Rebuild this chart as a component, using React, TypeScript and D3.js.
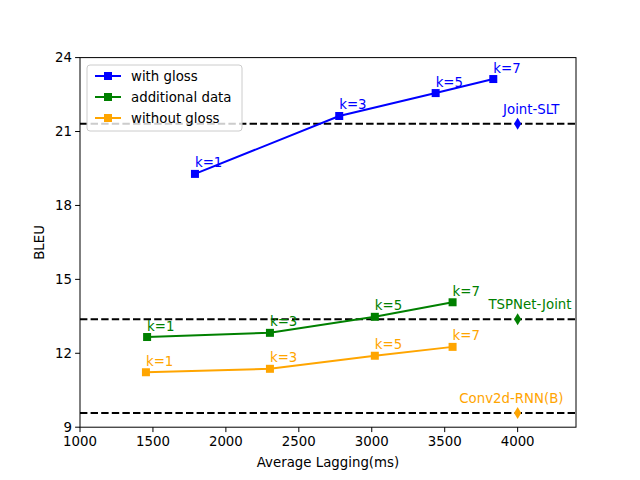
import * as d3 from 'd3';
import React from 'react';

const lagWithGloss = [1788, 2777, 3438, 3833];
const bleuWithGloss = [19.28, 21.63, 22.56, 23.13];
const lagAdditional = [1460, 2302, 3021, 3554];
const bleuAdditional = [12.66, 12.83, 13.48, 14.07];
const lagWithoutGloss = [1452, 2302, 3021, 3554];
const bleuWithoutGloss = [11.23, 11.37, 11.9, 12.26];
const kLabels = ['k=1', 'k=3', 'k=5', 'k=7'];

const baselineNames = ['Joint-SLT', 'TSPNet-Joint', 'Conv2d-RNN(B)'];
const baselineBleu = [21.32, 13.38, 9.58];
const baselineLag = [4000, 4000, 4000];
const baselineTextLag = [3900, 3800, 3600];

const xTicks = [1000, 1500, 2000, 2500, 3000, 3500, 4000];
const yTicks = [9, 12, 15, 18, 21, 24];

const series = [
    { name: 'with gloss', color: 'blue', xs: lagWithGloss, ys: bleuWithGloss },
    { name: 'additional data', color: 'green', xs: lagAdditional, ys: bleuAdditional },
    { name: 'without gloss', color: 'orange', xs: lagWithoutGloss, ys: bleuWithoutGloss },
];

const W = 640;
const H = 480;
const left = 80;
const right = 576;
const top = 57.6;
const bottom = 427.2;
const font = 'DejaVu Sans, sans-serif';

export default function App() {
    const x = d3.scaleLinear().domain([1000, 4400]).range([left, right]);
    const y = d3.scaleLinear().domain([9, 24]).range([bottom, top]);
    const line = d3.line<number>();

    return (
        <svg width={W} height={H} style={{ position: 'absolute', left: 0, top: 0, background: '#fff' }} fontFamily={font}>
            <rect x={0} y={0} width={W} height={H} fill="#fff" />
            {/* baselines */}
            {baselineBleu.map((b, i) => (
                <line key={'bl' + i} x1={left} x2={right} y1={y(b)} y2={y(b)}
                    stroke="black" strokeWidth={2} strokeDasharray="7.4,3.2" />
            ))}
            {series.map((s, si) => {
                const pts = s.xs.map((v, i) => [x(v), y(s.ys[i])] as [number, number]);
                return (
                    <g key={s.name}>
                        <path d={line(pts) || ''} fill="none" stroke={s.color} strokeWidth={2} />
                        {pts.map((p, i) => (
                            <rect key={i} x={p[0] - 4} y={p[1] - 4} width={8} height={8} fill={s.color} />
                        ))}
                        {pts.map((p, i) => (
                            <text key={'t' + i} x={p[0]} y={p[1] - 6.5} fontSize={13.33} fill={s.color}>{kLabels[i]}</text>
                        ))}
                        <path
                            d={`M${x(baselineLag[si])},${y(baselineBleu[si]) - 6}l3.6,6l-3.6,6l-3.6,-6z`}
                            fill={s.color} />
                        <text x={x(baselineTextLag[si])} y={y(baselineBleu[si]) - 10} fontSize={13.33} fill={s.color}>
                            {baselineNames[si]}
                        </text>
                    </g>
                );
            })}
            {/* axes frame */}
            <rect x={left} y={top} width={right - left} height={bottom - top} fill="none" stroke="black" strokeWidth={1} />
            {xTicks.map(t => (
                <g key={'x' + t}>
                    <line x1={x(t)} x2={x(t)} y1={bottom} y2={bottom + 4.9} stroke="black" />
                    <text x={x(t)} y={bottom + 19} fontSize={13.33} textAnchor="middle">{t}</text>
                </g>
            ))}
            {yTicks.map(t => (
                <g key={'y' + t}>
                    <line x1={left - 4.9} x2={left} y1={y(t)} y2={y(t)} stroke="black" />
                    <text x={left - 8} y={y(t) + 4.8} fontSize={13.33} textAnchor="end">{t}</text>
                </g>
            ))}
            <text x={(left + right) / 2} y={467} fontSize={13.33} textAnchor="middle">Average Lagging(ms)</text>
            <text transform={`translate(44,${(top + bottom) / 2}) rotate(-90)`} fontSize={13.33} textAnchor="middle">BLEU</text>
            {/* legend */}
            <g>
                <rect x={87} y={65} width={155} height={66} rx={3} fill="#fff" fillOpacity={0.8} stroke="#ccc" />
                {series.map((s, i) => {
                    const ly = 76 + i * 21;
                    return (
                        <g key={'lg' + i}>
                            <line x1={95} x2={121} y1={ly} y2={ly} stroke={s.color} strokeWidth={2} />
                            <rect x={104} y={ly - 4} width={8} height={8} fill={s.color} />
                            <text x={131} y={ly + 4.8} fontSize={13.33}>{s.name}</text>
                        </g>
                    );
                })}
            </g>
        </svg>
    );
}
